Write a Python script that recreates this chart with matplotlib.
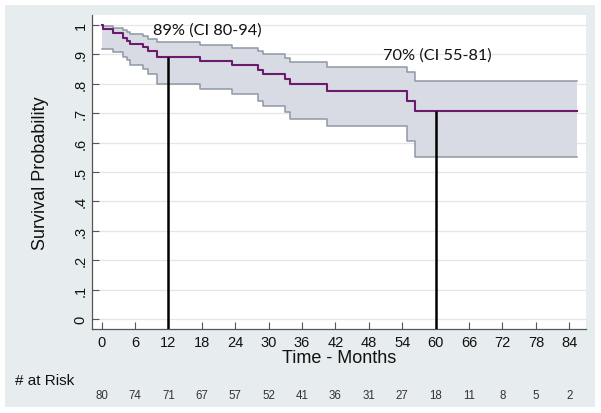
import matplotlib
matplotlib.use("Agg")
import matplotlib.pyplot as plt
from matplotlib.patches import Rectangle
import numpy as np

# ---- data ----
event_times = [0, 0.3, 2.1, 3.9, 4.5, 5.1, 7.5, 8.4, 10.0, 17.6, 23.4, 28.1, 29.0,
               32.9, 33.8, 40.5, 54.9, 56.3]
survival = [1.0, 0.985, 0.973, 0.957, 0.945, 0.935, 0.924, 0.911, 0.891, 0.877,
            0.863, 0.848, 0.833, 0.816, 0.799, 0.774, 0.740, 0.706]
ci_upper = [1.0, 0.996, 0.990, 0.983, 0.977, 0.970, 0.962, 0.952, 0.942, 0.932,
            0.922, 0.912, 0.902, 0.888, 0.874, 0.857, 0.840, 0.810]
ci_lower = [0.918, 0.918, 0.908, 0.891, 0.880, 0.863, 0.850, 0.835, 0.800, 0.782,
            0.765, 0.743, 0.726, 0.703, 0.680, 0.655, 0.607, 0.550]
end_time = 85.3

marker_times = [12, 60]
marker_surv = [0.891, 0.706]
marker_labels = ["89% (CI 80-94)", "70% (CI 55-81)"]
label_pos = [(18.9, 0.986), (60.3, 0.901)]

x_ticks = list(range(0, 85, 6))
y_ticks = [0, 0.1, 0.2, 0.3, 0.4, 0.5, 0.6, 0.7, 0.8, 0.9, 1.0]
y_tick_labels = ["0", ".1", ".2", ".3", ".4", ".5", ".6", ".7", ".8", ".9", "1"]
at_risk = [80, 74, 71, 67, 57, 52, 41, 36, 31, 27, 18, 11, 8, 5, 2]

# ---- figure ----
plt.rcParams['font.family'] = ['Liberation Sans', 'DejaVu Sans']
fig = plt.figure(figsize=(6.01, 4.14), dpi=100)
fig.patch.set_facecolor('white')
bg = Rectangle((5 / 601, 1 - 408 / 414), 590 / 601, 402 / 414,
               transform=fig.transFigure, facecolor='#e7ecef',
               edgecolor='none', zorder=-10)
fig.patches.append(bg)

ax = fig.add_axes([92 / 601, 1 - 330 / 414, 494 / 601, 314 / 414])
ax.set_zorder(1)
ax.set_facecolor('white')
ax.set_xlim(-1.74, 87)
ax.set_ylim(-0.034, 1.034)

for yv in y_ticks:
    ax.axhline(yv, color='#e6e6e6', lw=0.9, zorder=0.5)

t_ext = event_times + [end_time]
s_ext = survival + [survival[-1]]
u_ext = ci_upper + [ci_upper[-1]]
l_ext = ci_lower + [ci_lower[-1]]

ax.fill_between(t_ext, l_ext, u_ext, step='post', color='#d8dbe3', lw=0, zorder=1)
ax.step(t_ext, u_ext, where='post', color='#8e98a4', lw=1.1, zorder=2)
ax.step(t_ext, l_ext, where='post', color='#8e98a4', lw=1.1, zorder=2)
ax.step(t_ext, s_ext, where='post', color='#6a1b6e', lw=1.5, zorder=3)

for mt, ms in zip(marker_times, marker_surv):
    ax.plot([mt, mt], [-0.034, ms], color='black', lw=1.8, zorder=4,
            solid_capstyle='butt')

for lab, (lx, ly) in zip(marker_labels, label_pos):
    ax.text(lx, ly, lab, ha='center', va='center', fontsize=11.8,
            family=['Lato', 'DejaVu Sans'], color='#111111', zorder=5)

for side in ['top', 'right']:
    ax.spines[side].set_visible(False)
for side in ['left', 'bottom']:
    ax.spines[side].set_color('#555555')
    ax.spines[side].set_linewidth(0.9)

ax.set_xticks(x_ticks)
ax.set_xticklabels([str(v) for v in x_ticks], fontsize=10.5)
ax.set_yticks(y_ticks)
ax.set_yticklabels(y_tick_labels, fontsize=10.5, rotation=90, va='center')
ax.tick_params(axis='both', direction='in', length=5, width=0.8, color='#555555',
               labelcolor='#111111')
ax.tick_params(axis='x', pad=4)
ax.tick_params(axis='y', pad=3)

ax.set_xlabel("Time - Months", fontsize=13, labelpad=0, color='#111111')
ax.set_ylabel("Survival Probability", fontsize=13, labelpad=18, color='#111111')

fig.text(15 / 601, 1 - 381 / 414, "# at Risk", fontsize=11, ha='left', va='center',
         color='#111111')
for xv, n in zip(x_ticks, at_risk):
    ax.annotate(str(n), xy=(xv, 1 - 396.5 / 414), xycoords=('data', 'figure fraction'),
                ha='center', va='center', fontsize=8.3, color='#333333',
                annotation_clip=False)

fig.savefig("out.png", dpi=100, facecolor=fig.get_facecolor())
